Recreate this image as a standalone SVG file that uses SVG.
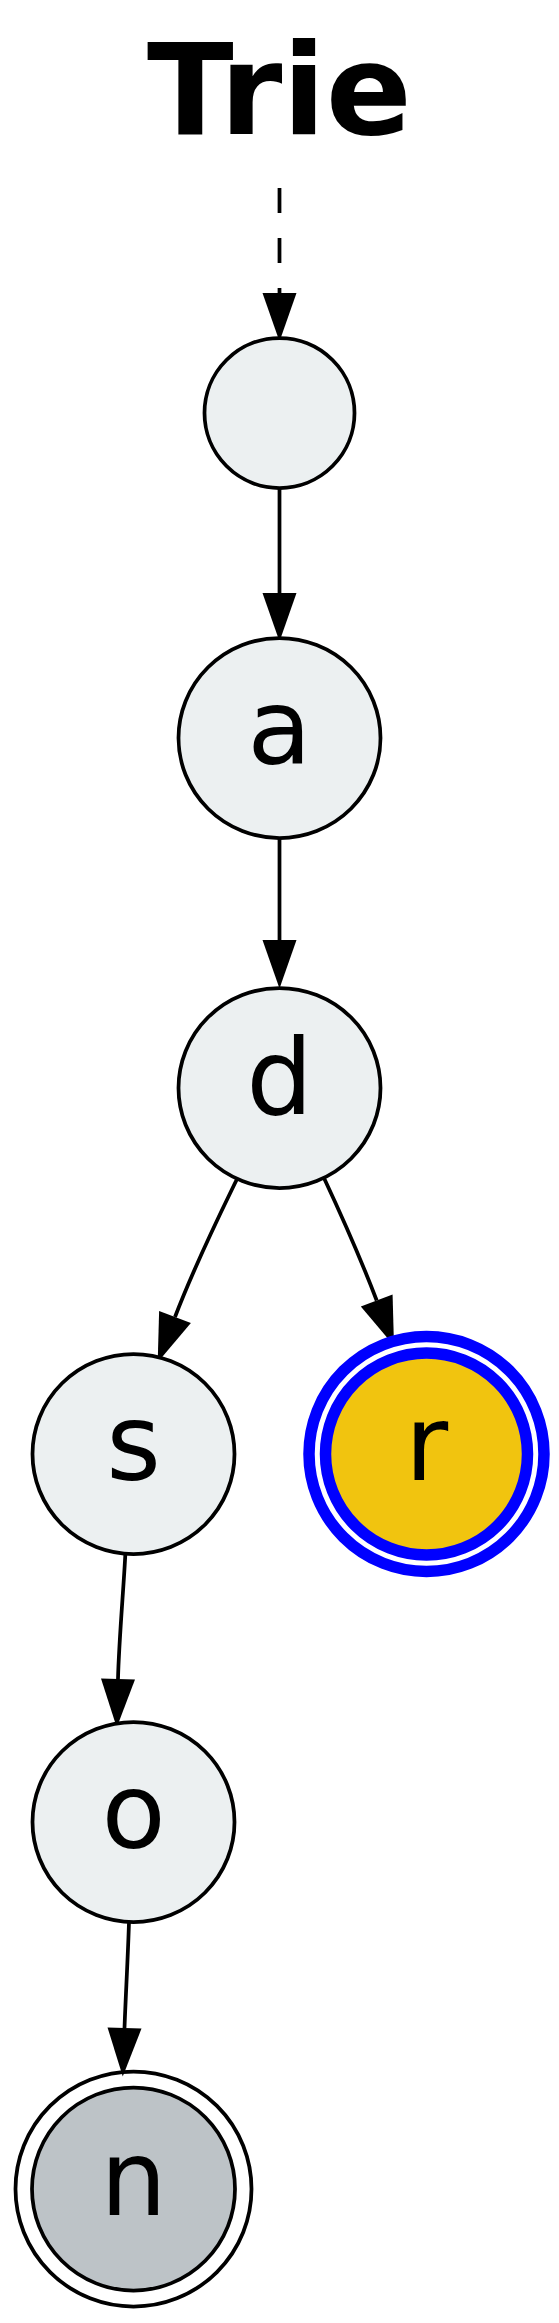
<svg xmlns="http://www.w3.org/2000/svg" width="559" height="2323" viewBox="0 0 559 2323">
<style>
.bg{fill:#ffffff}
.title{font-family:"DejaVu Sans","Liberation Sans",sans-serif;font-weight:bold;font-size:127px;text-anchor:middle;fill:#000}
.lbl{font-family:"DejaVu Sans","Liberation Sans",sans-serif;font-size:105px;text-anchor:middle;fill:#000}
.node{fill:#ECF0F1;stroke:#000;stroke-width:3.75}
.edge{fill:none;stroke:#000;stroke-width:3.75}
.dash{stroke-dasharray:25,25}
.ring{fill:none;stroke:#000;stroke-width:3.75}
.blue{stroke:#0000FF;stroke-width:11.5}
</style>
<defs>
<marker id="arr" markerUnits="userSpaceOnUse" viewBox="0 -18 50 36" markerWidth="50" markerHeight="36" refX="0" refY="0" orient="auto" overflow="visible">
<path d="M0,-17 L48.5,0 L0,17 Z" fill="#000"/>
</marker>
</defs>
<rect class="bg" x="0" y="0" width="559" height="2323"/>
<g id="title"><text class="title" x="279.5" y="134">Trie</text></g>
<g id="edges">
<path class="edge dash" d="M279.5,188 L279.5,293" marker-end="url(#arr)"/>
<path class="edge" d="M279.5,488 L279.5,593" marker-end="url(#arr)"/>
<path class="edge" d="M279.5,838 L279.5,940" marker-end="url(#arr)"/>
<path class="edge" d="M237,1179 C222,1210 196,1262 175,1317" marker-end="url(#arr)"/>
<path class="edge" d="M324,1178 C338,1208 362,1262 376.7,1300.5" marker-end="url(#arr)"/>
<path class="edge" d="M125.3,1555 C123.5,1590 119,1640 118,1679" marker-end="url(#arr)"/>
<path class="edge" d="M129,1922 C128,1955 125.5,2000 124.5,2028" marker-end="url(#arr)"/>
</g>
<g id="root"><ellipse class="node" cx="279.5" cy="413" rx="75" ry="75"/></g>
<g id="node-a"><ellipse class="node" cx="279.5" cy="738" rx="101" ry="100"/><text class="lbl" x="279.5" y="764">a</text></g>
<g id="node-d"><ellipse class="node" cx="279.5" cy="1088" rx="101" ry="100"/><text class="lbl" x="279.5" y="1114">d</text></g>
<g id="node-s"><ellipse class="node" cx="133.5" cy="1454" rx="101" ry="100"/><text class="lbl" x="133.5" y="1480">s</text></g>
<g id="node-r"><ellipse class="ring blue" cx="426.5" cy="1454" rx="117.5" ry="117.5"/><ellipse class="node blue" style="fill:#F1C40F" cx="426.5" cy="1454" rx="101" ry="101"/><text class="lbl" x="426.5" y="1480">r</text></g>
<g id="node-o"><ellipse class="node" cx="133.5" cy="1822" rx="101" ry="100"/><text class="lbl" x="133.5" y="1848">o</text></g>
<g id="node-n"><ellipse class="ring" cx="133.5" cy="2189" rx="118" ry="117.5"/><ellipse class="node" style="fill:#BDC3C7" cx="133.5" cy="2189" rx="101.5" ry="101.5"/><text class="lbl" x="133.5" y="2215">n</text></g>
</svg>
